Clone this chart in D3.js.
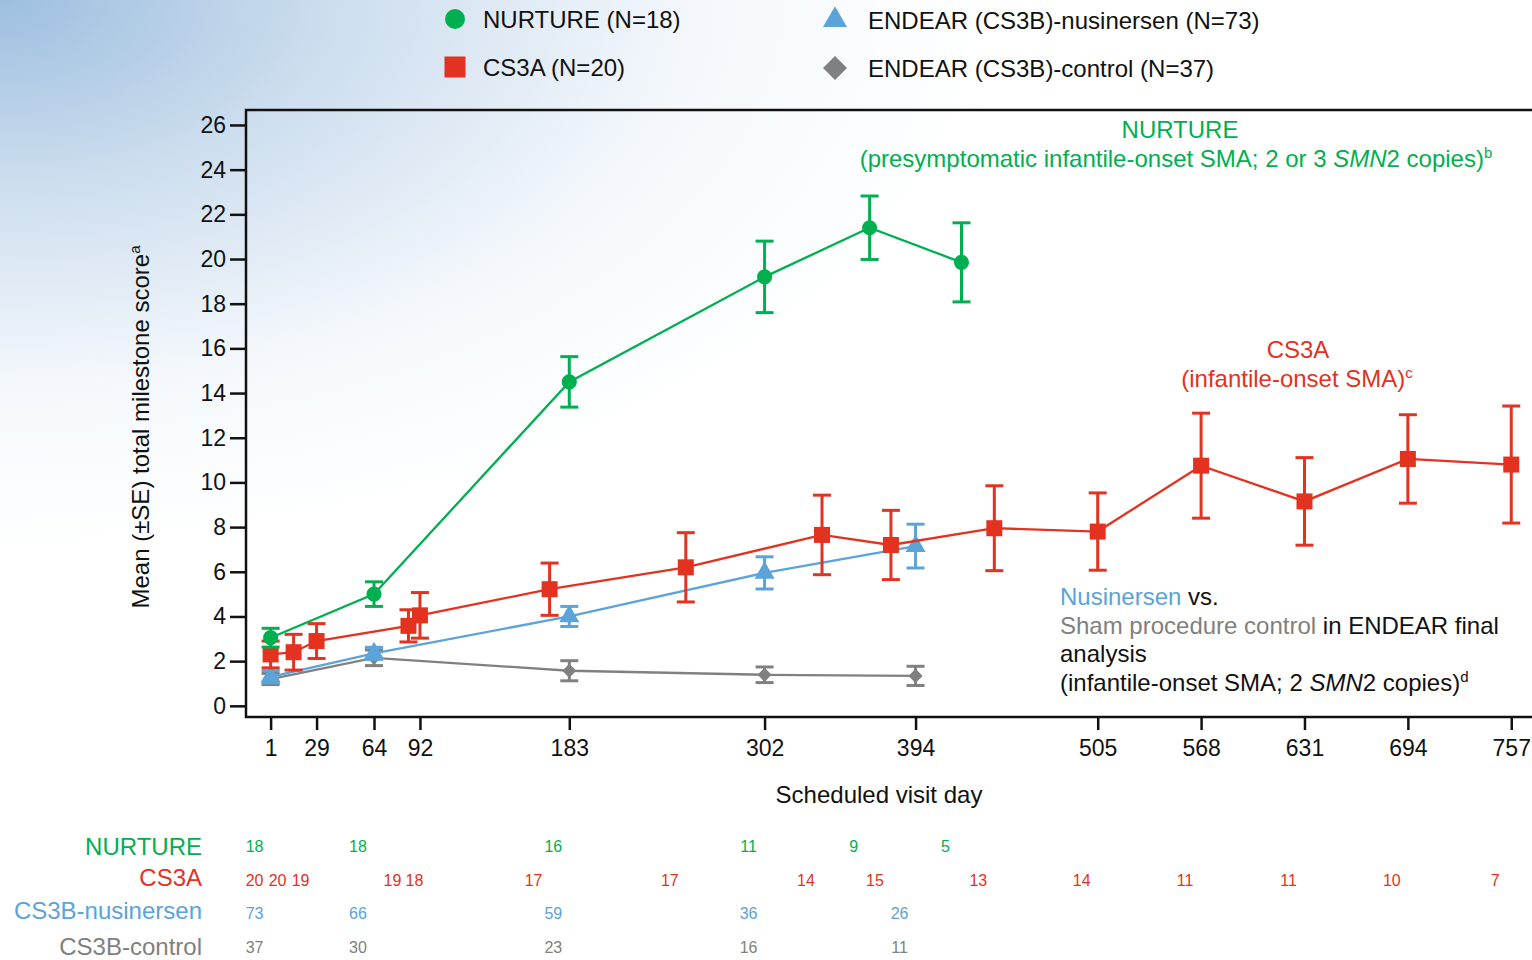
<!DOCTYPE html>
<html>
<head>
<meta charset="utf-8">
<script src="https://cdn.jsdelivr.net/npm/d3@7"></script>
<style>
  body { margin: 0; background: #fff; }
  svg { display: block; font-family: "Liberation Sans", Arial, sans-serif; }
</style>
</head>
<body>
<svg id="chart"></svg>
<script>
const width = 1532;
const height = 960;

// scheduled visit days, mean (±SE) milestone score and patients at each visit
const nurtureDays = [1, 64, 183, 302, 366, 422];
const nurtureMean = [3.05, 5.0, 14.5, 19.2, 21.4, 19.85];
const nurtureSE = [0.42, 0.55, 1.13, 1.6, 1.42, 1.77];
const nurtureN = [18, 18, 16, 11, 9, 5];

const cs3aDays = [1, 15, 29, 85, 92, 171, 254, 337, 379, 442, 505, 568, 631, 694, 757];
const cs3aMean = [2.3, 2.4, 2.9, 3.58, 4.05, 5.22, 6.2, 7.65, 7.2, 7.95, 7.8, 10.75, 9.15, 11.05, 10.8];
const cs3aSE = [0.6, 0.8, 0.78, 0.72, 1.02, 1.17, 1.55, 1.78, 1.55, 1.9, 1.73, 2.35, 1.96, 1.98, 2.62];
const cs3aN = [20, 20, 19, 19, 18, 17, 17, 14, 15, 13, 14, 11, 11, 10, 7];

const nusDays = [1, 64, 183, 302, 394];
const nusMean = [1.3, 2.35, 4.0, 5.95, 7.15];
const nusSE = [0.27, 0.27, 0.45, 0.72, 0.98];
const nusN = [73, 66, 59, 36, 26];

const ctrlDays = [1, 64, 183, 302, 394];
const ctrlMean = [1.2, 2.15, 1.57, 1.39, 1.34];
const ctrlSE = [0.25, 0.35, 0.45, 0.35, 0.43];
const ctrlN = [37, 30, 23, 16, 11];

const xTicks = [1, 29, 64, 92, 183, 302, 394, 505, 568, 631, 694, 757];
const yTicks = d3.range(0, 27, 2);

const green = "#00b050";
const red = "#e3321f";
const blue = "#5ba3d9";
const grey = "#808080";

const svg = d3.select("#chart")
    .attr("width", width)
    .attr("height", height);

// soft blue corner wash
const defs = svg.append("defs");
const grad = defs.append("radialGradient")
    .attr("id", "bg")
    .attr("gradientUnits", "userSpaceOnUse")
    .attr("cx", 0).attr("cy", 0).attr("r", 1000)
    .attr("gradientTransform", "scale(1,0.55)");
grad.append("stop").attr("offset", 0).attr("stop-color", "#9dbfdf");
grad.append("stop").attr("offset", 0.35).attr("stop-color", "#cfdfef");
grad.append("stop").attr("offset", 0.7).attr("stop-color", "#f4f8fc");
grad.append("stop").attr("offset", 1).attr("stop-color", "#ffffff");
svg.append("rect").attr("width", width).attr("height", height).attr("fill", "url(#bg)");

const x = d3.scaleLinear().domain([-14, 780]).range([246, 1549]);
const y = d3.scaleLinear().domain([-0.5, 26.67]).range([717, 110]);

// frame
svg.append("path")
    .attr("d", `M${width + 10},${y(26.67)}H${x(-14)}V${y(-0.5)}H${width + 10}`)
    .attr("fill", "none")
    .attr("stroke", "#111")
    .attr("stroke-width", 2.5);

const yAxis = svg.append("g")
    .attr("transform", `translate(${x(-14)},0)`)
    .call(d3.axisLeft(y).tickValues(yTicks).tickSize(16).tickPadding(4));
yAxis.select(".domain").remove();
yAxis.selectAll("line").attr("stroke", "#111").attr("stroke-width", 2.5);
yAxis.selectAll("text").attr("font-size", "23px").attr("fill", "#111")
    .attr("font-family", "Liberation Sans, Arial, sans-serif");

const xAxis = svg.append("g")
    .attr("transform", `translate(0,${y(-0.5)})`)
    .call(d3.axisBottom(x).tickValues(xTicks).tickSize(13).tickPadding(10));
xAxis.select(".domain").remove();
xAxis.selectAll("line").attr("stroke", "#111").attr("stroke-width", 2.5);
xAxis.selectAll("text").attr("font-size", "23px").attr("fill", "#111")
    .attr("font-family", "Liberation Sans, Arial, sans-serif");

svg.append("text")
    .attr("x", 879).attr("y", 803)
    .attr("text-anchor", "middle")
    .attr("font-size", "24px")
    .attr("fill", "#111")
    .text("Scheduled visit day");

const yTitle = svg.append("text")
    .attr("transform", "translate(149,427) rotate(-90)")
    .attr("text-anchor", "middle")
    .attr("font-size", "24px")
    .attr("fill", "#111");
yTitle.append("tspan").text("Mean (±SE) total milestone score");
yTitle.append("tspan").attr("font-size", "15px").attr("dy", -9).text("a");

// series
const series = [
    { days: ctrlDays, mean: ctrlMean, se: ctrlSE, color: grey, symbol: "diamond" },
    { days: nusDays, mean: nusMean, se: nusSE, color: blue, symbol: "triangle" },
    { days: cs3aDays, mean: cs3aMean, se: cs3aSE, color: red, symbol: "square" },
    { days: nurtureDays, mean: nurtureMean, se: nurtureSE, color: green, symbol: "circle" }
];

function symbolPath(kind, big) {
    if (kind === "circle") return d3.symbol(d3.symbolCircle, big ? 314 : 180)();
    if (kind === "square") return d3.symbol(d3.symbolSquare, big ? 441 : 256)();
    if (kind === "triangle") return d3.symbol(d3.symbolTriangle, big ? 250 : 175)();
    return d3.symbol(d3.symbolSquare, big ? 289 : 100)();
}

const line = d3.line().x(d => x(d.day)).y(d => y(d.mean));

series.forEach(s => {
    const pts = s.days.map((d, i) => ({ day: d, mean: s.mean[i], se: s.se[i] }));
    const g = svg.append("g");

    g.append("path")
        .datum(pts)
        .attr("d", line)
        .attr("fill", "none")
        .attr("stroke", s.color)
        .attr("stroke-width", 2.3);

    const bars = g.selectAll("g.err")
        .data(pts)
        .join("g")
        .attr("class", "err")
        .attr("stroke", s.color)
        .attr("stroke-width", 3);
    bars.append("line")
        .attr("x1", d => x(d.day)).attr("x2", d => x(d.day))
        .attr("y1", d => y(d.mean + d.se)).attr("y2", d => y(d.mean - d.se));
    bars.append("line")
        .attr("x1", d => x(d.day) - 9).attr("x2", d => x(d.day) + 9)
        .attr("y1", d => y(d.mean + d.se)).attr("y2", d => y(d.mean + d.se));
    bars.append("line")
        .attr("x1", d => x(d.day) - 9).attr("x2", d => x(d.day) + 9)
        .attr("y1", d => y(d.mean - d.se)).attr("y2", d => y(d.mean - d.se));

    g.selectAll("path.mark")
        .data(pts)
        .join("path")
        .attr("class", "mark")
        .attr("d", symbolPath(s.symbol, false))
        .attr("transform", d => `translate(${x(d.day)},${y(d.mean)})` + (s.symbol === "diamond" ? " rotate(45)" : ""))
        .attr("fill", s.color);
});

// legend
const legend = [
    { label: "NURTURE (N=18)", color: green, symbol: "circle", lx: 455, ly: 19 },
    { label: "CS3A (N=20)", color: red, symbol: "square", lx: 455, ly: 67 },
    { label: "ENDEAR (CS3B)-nusinersen (N=73)", color: blue, symbol: "triangle", lx: 835, ly: 20 },
    { label: "ENDEAR (CS3B)-control (N=37)", color: grey, symbol: "diamond", lx: 835, ly: 68 }
];
const lg = svg.selectAll("g.legend")
    .data(legend)
    .join("g")
    .attr("class", "legend")
    .attr("transform", d => `translate(${d.lx},${d.ly})`);
lg.append("path")
    .attr("d", d => symbolPath(d.symbol, true))
    .attr("transform", d => d.symbol === "diamond" ? "rotate(45)" : null)
    .attr("fill", d => d.color);
lg.append("text")
    .attr("x", d => d.lx < 600 ? 28 : 33)
    .attr("y", 9)
    .attr("font-size", "24px")
    .attr("fill", "#111")
    .text(d => d.label);

// annotations
function addText(tx, ty, anchor, color, parts) {
    const t = svg.append("text")
        .attr("x", tx).attr("y", ty)
        .attr("text-anchor", anchor)
        .attr("font-size", "24px")
        .attr("fill", color);
    parts.forEach(p => {
        const ts = t.append("tspan").text(p.t);
        if (p.i) ts.attr("font-style", "italic");
        if (p.c) ts.attr("fill", p.c);
        if (p.sup) ts.attr("font-size", "15px").attr("dy", -9);
    });
}

addText(1180, 138, "middle", green, [{ t: "NURTURE" }]);
addText(1176, 167, "middle", green, [
    { t: "(presymptomatic infantile-onset SMA; 2 or 3 " }, { t: "SMN", i: true },
    { t: "2 copies)" }, { t: "b", sup: true }
]);
addText(1298, 358, "middle", red, [{ t: "CS3A" }]);
addText(1297, 387, "middle", red, [{ t: "(infantile-onset SMA)" }, { t: "c", sup: true }]);

addText(1060, 605, "start", "#111", [{ t: "Nusinersen", c: blue }, { t: " vs." }]);
addText(1060, 634, "start", "#111", [{ t: "Sham procedure control", c: grey }, { t: " in ENDEAR final" }]);
addText(1060, 662, "start", "#111", [{ t: "analysis" }]);
addText(1060, 691, "start", "#111", [
    { t: "(infantile-onset SMA; 2 " }, { t: "SMN", i: true }, { t: "2 copies)" }, { t: "d", sup: true }
]);

// number of patients at each visit
const riskRows = [
    { name: "NURTURE", color: green, days: nurtureDays, n: nurtureN, ty: 855, ny: 852 },
    { name: "CS3A", color: red, days: cs3aDays, n: cs3aN, ty: 886, ny: 886 },
    { name: "CS3B-nusinersen", color: blue, days: nusDays, n: nusN, ty: 919, ny: 919 },
    { name: "CS3B-control", color: grey, days: ctrlDays, n: ctrlN, ty: 955, ny: 953 }
];

riskRows.forEach(r => {
    svg.append("text")
        .attr("x", 202).attr("y", r.ty)
        .attr("text-anchor", "end")
        .attr("font-size", "24px")
        .attr("fill", r.color)
        .text(r.name);

    // keep crowded labels from overlapping
    const pos = r.days.map(d => x(d) - 16);
    for (let i = 1; i < pos.length; i++) {
        if (pos[i] - pos[i - 1] < 22) pos[i] = pos[i - 1] + 22;
    }

    svg.selectAll(null)
        .data(r.n)
        .join("text")
        .attr("x", (d, i) => pos[i])
        .attr("y", r.ny)
        .attr("text-anchor", "middle")
        .attr("font-size", "16px")
        .attr("fill", r.color)
        .text(d => d);
});
</script>
</body>
</html>
